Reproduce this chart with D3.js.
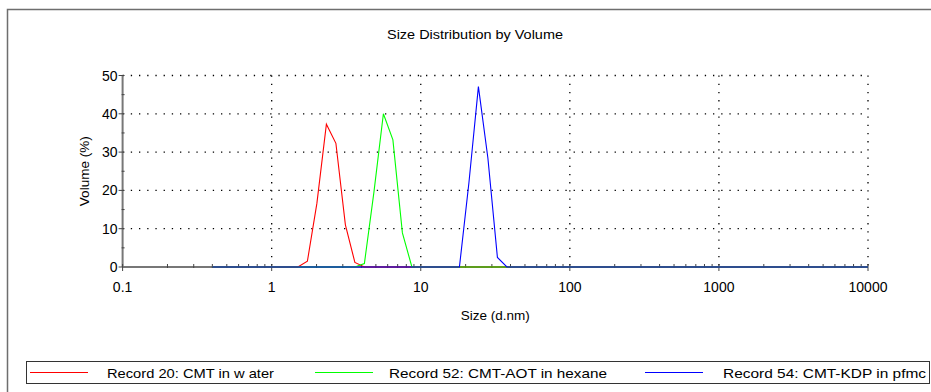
<!DOCTYPE html>
<html>
<head>
<meta charset="utf-8">
<script src="https://cdn.jsdelivr.net/npm/d3@7/dist/d3.min.js"></script>
<style>
  body { margin: 0; background: #fff; }
  svg { display: block; font-family: "Liberation Sans", Arial, sans-serif; }
</style>
</head>
<body>
<div id="chart"></div>
<script>
// size bins (d.nm)
var sizes = [0.4, 0.4632, 0.5365, 0.6213, 0.7195, 0.8332, 0.9649, 1.117, 1.294, 1.499,
  1.736, 2.010, 2.328, 2.696, 3.122, 3.615, 4.187, 4.849, 5.615, 6.503,
  7.531, 8.721, 10.10, 11.70, 13.54, 15.69, 18.17, 21.04, 24.36, 28.21,
  32.67, 37.84, 43.82, 50.75, 58.77, 68.06, 78.82, 91.28, 105.7, 122.4,
  141.8, 164.2, 190.1, 220.2, 255.0, 295.3, 342.0, 396.1, 458.7, 531.2,
  615.1, 712.4, 825.0, 955.4, 1106, 1281, 1484, 1718, 1990, 2305,
  2669, 3091, 3580, 4145, 4801, 5560, 6439, 7456, 8635, 10000];

var record20 = [0, 0, 0, 0, 0, 0, 0, 0, 0, 0,
  1.5, 16.6, 37.3, 32.3, 11.0, 1.2, 0, 0, 0, 0,
  0, 0, 0, 0, 0, 0, 0, 0, 0, 0,
  0, 0, 0, 0, 0, 0, 0, 0, 0, 0,
  0, 0, 0, 0, 0, 0, 0, 0, 0, 0,
  0, 0, 0, 0, 0, 0, 0, 0, 0, 0,
  0, 0, 0, 0, 0, 0, 0, 0, 0, 0];

var record52 = [0, 0, 0, 0, 0, 0, 0, 0, 0, 0,
  0, 0, 0, 0, 0, 0, 0.9, 19.5, 40.0, 33.2,
  8.9, 0, 0, 0, 0, 0, 0, 0, 0, 0,
  0, 0, 0, 0, 0, 0, 0, 0, 0, 0,
  0, 0, 0, 0, 0, 0, 0, 0, 0, 0,
  0, 0, 0, 0, 0, 0, 0, 0, 0, 0,
  0, 0, 0, 0, 0, 0, 0, 0, 0, 0];

var record54 = [0, 0, 0, 0, 0, 0, 0, 0, 0, 0,
  0, 0, 0, 0, 0, 0, 0, 0, 0, 0,
  0, 0, 0, 0, 0, 0, 0, 22.0, 47.1, 28.4,
  2.5, 0, 0, 0, 0, 0, 0, 0, 0, 0,
  0, 0, 0, 0, 0, 0, 0, 0, 0, 0,
  0, 0, 0, 0, 0, 0, 0, 0, 0, 0,
  0, 0, 0, 0, 0, 0, 0, 0, 0, 0];

var seriesNames = ["Record 20: CMT in w ater", "Record 52: CMT-AOT in hexane", "Record 54: CMT-KDP in pfmc"];
var seriesColors = ["#ff0000", "#00ff00", "#0000ff"];
var xTicks = [0.1, 1, 10, 100, 1000, 10000];
var yTicks = [0, 10, 20, 30, 40, 50];

var width = 931, height = 392;
var svg = d3.select("#chart").append("svg")
  .attr("width", width)
  .attr("height", height);

// outer frame (runs off the right and bottom edges)
svg.append("rect")
  .attr("x", 7.5).attr("y", 9.5)
  .attr("width", 1000).attr("height", 500)
  .attr("fill", "none")
  .attr("stroke", "#6e6e6e")
  .attr("stroke-width", 1.5);

var x = d3.scaleLog().domain([0.1, 10000]).range([122.6, 868]);
var y = d3.scaleLinear().domain([0, 50]).range([267, 75.5]);

svg.append("text")
  .attr("x", 475).attr("y", 39)
  .attr("text-anchor", "middle")
  .attr("font-size", 13)
  .attr("textLength", 176)
  .attr("lengthAdjust", "spacingAndGlyphs")
  .text("Size Distribution by Volume");

// grid
svg.append("g").selectAll("line")
  .data(yTicks.slice(1))
  .enter().append("line")
  .attr("x1", x(0.1)).attr("x2", x(10000))
  .attr("y1", function(d) { return y(d); })
  .attr("y2", function(d) { return y(d); })
  .attr("stroke", "#000")
  .attr("stroke-width", 1.3)
  .attr("stroke-dasharray", "1.3,6.9");

svg.append("g").selectAll("line")
  .data(xTicks.slice(1))
  .enter().append("line")
  .attr("x1", function(d) { return x(d); })
  .attr("x2", function(d) { return x(d); })
  .attr("y1", y(50)).attr("y2", y(0))
  .attr("stroke", "#000")
  .attr("stroke-width", 1.3)
  .attr("stroke-dasharray", "1.3,6.9");

// y axis
var yMinor = d3.range(5, 50, 10);
var gy = svg.append("g");
gy.append("line")
  .attr("x1", x(0.1)).attr("x2", x(0.1))
  .attr("y1", y(50)).attr("y2", y(0))
  .attr("stroke", "#777").attr("stroke-width", 2);
gy.selectAll(".maj").data(yTicks).enter().append("line")
  .attr("x1", x(0.1) - 4).attr("x2", x(0.1) + 2)
  .attr("y1", function(d) { return y(d); })
  .attr("y2", function(d) { return y(d); })
  .attr("stroke", "#444").attr("stroke-width", 1);
gy.selectAll(".min").data(yMinor).enter().append("line")
  .attr("x1", x(0.1) - 1).attr("x2", x(0.1) + 2)
  .attr("y1", function(d) { return y(d); })
  .attr("y2", function(d) { return y(d); })
  .attr("stroke", "#444").attr("stroke-width", 1);
gy.selectAll("text").data(yTicks).enter().append("text")
  .attr("x", x(0.1) - 5)
  .attr("y", function(d) { return y(d) + 5; })
  .attr("text-anchor", "end")
  .attr("font-size", 14)
  .text(function(d) { return d; });

svg.append("text")
  .attr("transform", "translate(89," + y(25) + ") rotate(-90)")
  .attr("text-anchor", "middle")
  .attr("font-size", 13.5)
  .text("Volume (%)");

// x axis
var xMinor = [];
xTicks.slice(0, -1).forEach(function(t) {
  for (var k = 2; k <= 9; k++) xMinor.push(t * k);
});
var gx = svg.append("g");
gx.append("line")
  .attr("x1", x(0.1)).attr("x2", x(10000))
  .attr("y1", y(0)).attr("y2", y(0))
  .attr("stroke", "#777").attr("stroke-width", 2);
gx.selectAll(".maj").data(xTicks).enter().append("line")
  .attr("x1", function(d) { return x(d); })
  .attr("x2", function(d) { return x(d); })
  .attr("y1", y(0) - 3).attr("y2", y(0) + 4)
  .attr("stroke", "#444").attr("stroke-width", 1);
gx.selectAll(".min").data(xMinor).enter().append("line")
  .attr("x1", function(d) { return x(d); })
  .attr("x2", function(d) { return x(d); })
  .attr("y1", y(0) - 3).attr("y2", y(0) + 1)
  .attr("stroke", "#444").attr("stroke-width", 1);
gx.selectAll("text").data(xTicks).enter().append("text")
  .attr("x", function(d) { return x(d); })
  .attr("y", y(0) + 25)
  .attr("text-anchor", "middle")
  .attr("font-size", 14)
  .text(function(d) { return d; });

svg.append("text")
  .attr("x", (x(0.1) + x(10000)) / 2)
  .attr("y", 320)
  .attr("text-anchor", "middle")
  .attr("font-size", 13.5)
  .text("Size (d.nm)");

// series
var line = d3.line()
  .x(function(d) { return x(d[0]); })
  .y(function(d) { return y(d[1]); });

[record20, record52, record54].forEach(function(vals, i) {
  svg.append("path")
    .datum(sizes.map(function(s, j) { return [s, vals[j]]; }))
    .attr("d", line)
    .attr("fill", "none")
    .attr("stroke", seriesColors[i])
    .attr("stroke-width", 1.1);
});

// legend
var lg = svg.append("g");
lg.append("rect")
  .attr("x", 26.5).attr("y", 361.5)
  .attr("width", 903).attr("height", 22)
  .attr("fill", "#fff")
  .attr("stroke", "#333").attr("stroke-width", 1);
var legX = [30, 315, 645];
var textX = [107, 389, 723];
var textW = [167, 218, 203];
seriesNames.forEach(function(n, i) {
  lg.append("line")
    .attr("x1", legX[i]).attr("x2", legX[i] + 58)
    .attr("y1", 372.5).attr("y2", 372.5)
    .attr("stroke", seriesColors[i]).attr("stroke-width", 1);
  lg.append("text")
    .attr("x", textX[i]).attr("y", 377.5)
    .attr("font-size", 13.5)
    .attr("textLength", textW[i])
    .attr("lengthAdjust", "spacingAndGlyphs")
    .text(n);
});
</script>
</body>
</html>
